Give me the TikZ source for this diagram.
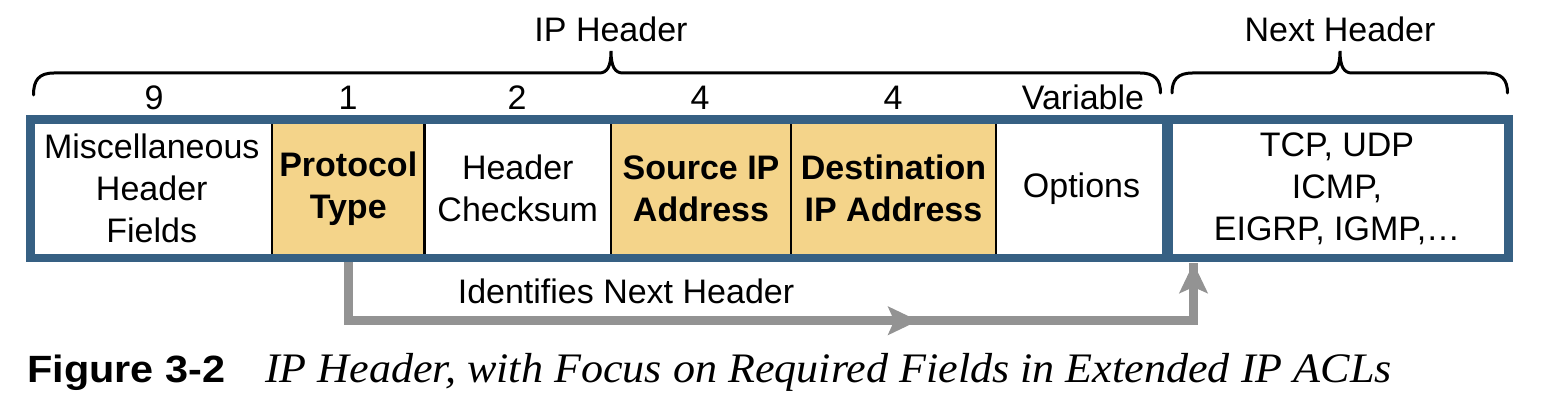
\documentclass[tikz,border=0pt]{standalone}
\usepackage{fontspec}
\setmainfont{Liberation Sans}
\newfontfamily\capserif{Liberation Serif}
\usetikzlibrary{arrows.meta,decorations.markings}
\definecolor{frameblue}{RGB}{54,96,131}
\definecolor{fieldyellow}{RGB}{244,212,138}
\definecolor{arrowgray}{RGB}{147,147,147}
\tikzset{
  cell/.style={draw=black, line width=2.5pt, inner sep=0pt, align=center,
    minimum height=135.5pt, font=\fontsize{34}{42}\selectfont},
  keycell/.style={cell, fill=fieldyellow, font=\fontsize{34}{42}\selectfont\bfseries},
  plaincell/.style={cell, fill=white},
  frame/.style={draw=frameblue, line width=8.5pt},
  sizelbl/.style={anchor=base, inner sep=0pt, font=\fontsize{34}{42}\selectfont},
  hbrace/.style={draw=black, line width=3pt, line cap=round},
  conn/.style={draw=arrowgray, line width=9pt, line join=miter},
  bigtip/.tip={Stealth[length=30pt, width=28pt, inset=6pt]}
}
\begin{document}
\begin{tikzpicture}[x=1pt, y=-1pt]
\useasboundingbox (0,0) rectangle (1544,406);
% cells
\node[plaincell, minimum width=240.5pt] (misc) at (151.75,188.75) {Miscellaneous\\Header\\Fields};
\node[keycell, minimum width=152.5pt] (proto) at (348.25,188.75) {Protocol\\Type};
\node[plaincell, minimum width=186.5pt] (csum) at (517.75,188.75) {Header\\Checksum};
\node[keycell, minimum width=180pt] (src) at (701,188.75) {Source IP\\Address};
\node[keycell, minimum width=205pt] (dst) at (893.5,188.75) {Destination\\IP Address};
\node[plaincell, minimum width=171pt] (opt) at (1081.5,188.75) {Options};
\node[plaincell, draw=none, minimum width=340pt] (nh) at (1337,188.75) {TCP, UDP\\ICMP,\\EIGRP, IGMP,\dots};
% connector
\coordinate (tgt) at (1193.5,263);
\path[conn, postaction={decorate}, decoration={markings, mark=at position 633pt with {\arrow{bigtip}}}]
  (proto.south) -- ++(0,63) -| (tgt);
\draw[conn, -{bigtip}] (1193.5,300) -- (tgt);
% frames
\draw[frame] (misc.north west) rectangle (opt.south east);
\draw[frame] (nh.north west) rectangle (nh.south east);
% size labels
\node[sizelbl] (n9) at (154,110) {9};
\node[sizelbl] (n1) at (348,110) {1};
\node[sizelbl] (n2) at (517,110) {2};
\node[sizelbl] (n4a) at (700,110) {4};
\node[sizelbl] (n4b) at (893,110) {4};
\node[sizelbl] (nvar) at (1083,110) {Variable};
% braces
\draw[hbrace] (33.5,95) .. controls (33.5,80) and (39,73) .. (54,73) -- (599,73)
  .. controls (607,73) and (611,67) .. (611,51) .. controls (611,67) and (615,73) .. (623,73)
  -- (1140,73) .. controls (1155,73) and (1160.5,80) .. (1160.5,93);
\draw[hbrace] (1172,93) .. controls (1172,80) and (1177.5,73) .. (1192.5,73) -- (1328,73)
  .. controls (1336,73) and (1340,67) .. (1340,51) .. controls (1340,67) and (1344,73) .. (1352,73)
  -- (1487,73) .. controls (1502,73) and (1507.5,80) .. (1507.5,93);
\node[sizelbl] (iph) at (611,42) {IP Header};
\node[sizelbl] (nxh) at (1340,42) {Next Header};
% connector label
\node[sizelbl] (idl) at (626,303) {Identifies Next Header};
% caption
\node[anchor=base west, inner sep=0pt, font=\fontsize{38}{44}\selectfont\bfseries] (fig) at (27,382) {\scalebox{1.09}[1]{Figure 3-2}};
\node[anchor=base west, inner sep=0pt, font=\fontsize{42}{48}\capserif\itshape] (cap) at (265,382) {\scalebox{1.05}[1]{IP Header, with Focus on Required Fields in Extended IP ACLs}};
\end{tikzpicture}
\end{document}
